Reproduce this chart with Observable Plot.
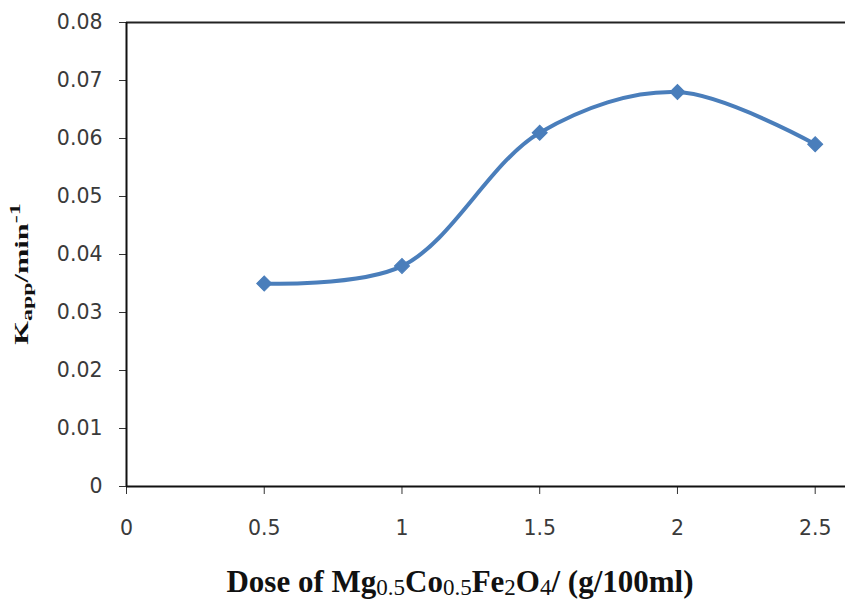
<!DOCTYPE html>
<html>
<head>
<meta charset="utf-8">
<script src="https://cdn.jsdelivr.net/npm/d3@7"></script>
<script src="https://cdn.jsdelivr.net/npm/@observablehq/plot@0.6"></script>
<style>
  html, body { margin: 0; padding: 0; background: #fff; }
  #chart svg { display: block; }
</style>
</head>
<body>
<div id="chart"></div>
<script>
const doses = [0.5, 1, 1.5, 2, 2.5];
const kapp = [0.035, 0.038, 0.061, 0.068, 0.059];
const xTicks = [0, 0.5, 1, 1.5, 2, 2.5];
const xTickLabels = ["0", "0.5", "1", "1.5", "2", "2.5"];
const yTicks = [0, 0.01, 0.02, 0.03, 0.04, 0.05, 0.06, 0.07, 0.08];
const yTickLabels = ["0", "0.01", "0.02", "0.03", "0.04", "0.05", "0.06", "0.07", "0.08"];

const data = doses.map((d, i) => ({dose: d, k: kapp[i]}));
const color = "#4a7ebb";

const plot = Plot.plot({
  width: 845,
  height: 599,
  marginLeft: 126,
  marginRight: 0,
  marginTop: 22,
  marginBottom: 113,
  style: {fontFamily: "'DejaVu Sans', Verdana, sans-serif", fontSize: "20.5px", color: "#3a3a3a", background: "#fff"},
  x: {domain: [0, 2.61], ticks: xTicks, tickFormat: (d) => xTickLabels[xTicks.indexOf(d)], label: null, tickSize: 8, tickPadding: 26},
  y: {domain: [0, 0.08], ticks: yTicks, tickFormat: (d) => yTickLabels[yTicks.findIndex(t => Math.abs(t - d) < 1e-9)], label: null, tickSize: 7, tickPadding: 17},
  marks: [
    Plot.ruleY([0.08], {stroke: "#222", strokeWidth: 2}),
    Plot.ruleX([0], {stroke: "#111", strokeWidth: 2}),
    Plot.ruleY([0], {stroke: "#111", strokeWidth: 2}),
    Plot.line(data, {x: "dose", y: "k", stroke: color, strokeWidth: 4, curve: "catmull-rom"}),
    Plot.dot(data, {x: "dose", y: "k", symbol: "square", rotate: 45, r: 6, fill: color, stroke: color, strokeWidth: 1})
  ]
});

const svg = d3.select(plot);
svg.selectAll("[aria-label='x-axis tick'], [aria-label='y-axis tick']").attr("stroke", "#333");

// x axis label
const xl = svg.append("text")
  .attr("x", 460).attr("y", 592)
  .attr("text-anchor", "middle")
  .attr("font-family", "'Liberation Serif', 'Times New Roman', serif")
  .attr("font-weight", "bold")
  .attr("font-size", 31)
  .attr("fill", "#111");
const sub = (t) => { xl.append("tspan").attr("font-size", 23).attr("font-weight", "normal").attr("dy", 3).text(t); };
const main = (t, first) => { xl.append("tspan").attr("dy", first ? 0 : -3).text(t); };
main("Dose of Mg", true);
sub("0.5");
main("Co");
sub("0.5");
main("Fe");
sub("2");
main("O");
sub("4");
main("/ (g/100ml)");

// y axis label (stretched along its length, as in the reference)
const yl = svg.append("text")
  .attr("transform", "translate(28,274) rotate(-90) scale(1.6,1)")
  .attr("text-anchor", "middle")
  .attr("font-family", "'Liberation Serif', 'Times New Roman', serif")
  .attr("font-weight", "bold")
  .attr("font-size", 19)
  .attr("fill", "#111");
yl.append("tspan").text("K");
yl.append("tspan").attr("font-size", 15).attr("dy", 4).text("app");
yl.append("tspan").attr("dy", -4).text("/min");
yl.append("tspan").attr("font-size", 15).attr("dy", -8).text("-1");

document.getElementById("chart").appendChild(plot);
</script>
</body>
</html>
